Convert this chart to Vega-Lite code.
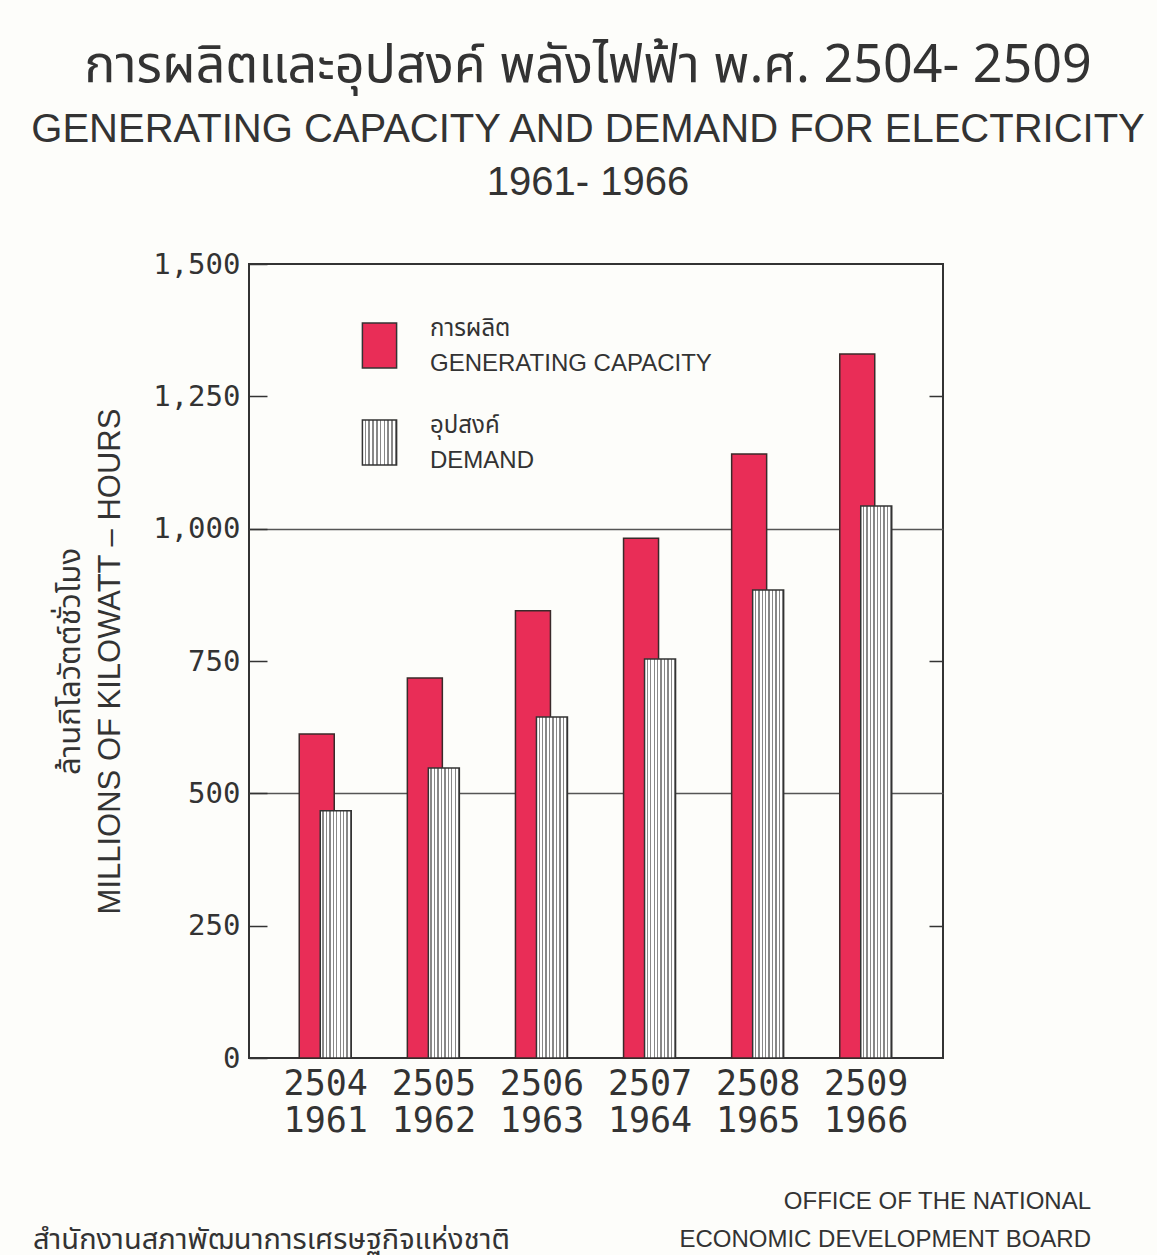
{
  "$schema": "https://vega.github.io/schema/vega-lite/v6.json",
  "background": "#fdfdfa",
  "padding": {"left": 29, "top": 40, "right": 10, "bottom": 0},
  "title": {
    "text": "การผลิตและอุปสงค์  พลังไฟฟ้า  พ.ศ.  2504- 2509",
    "subtitle": ["GENERATING CAPACITY AND DEMAND FOR ELECTRICITY", "1961- 1966"],
    "font": "Noto Sans Thai, Loma, Garuda, Noto Sans, sans-serif",
    "fontSize": 52,
    "fontWeight": "normal",
    "color": "#333333",
    "subtitleFont": "Liberation Sans",
    "subtitleFontSize": 40,
    "subtitleColor": "#333333",
    "subtitleLineHeight": 53,
    "subtitlePadding": 17,
    "offset": 45,
    "dx": 26,
    "anchor": "middle"
  },
  "datasets": {
    "elec": [
      {"year": "2504 1961", "series": "การผลิต|GENERATING CAPACITY", "value": 612},
      {"year": "2504 1961", "series": "อุปสงค์|DEMAND", "value": 467},
      {"year": "2505 1962", "series": "การผลิต|GENERATING CAPACITY", "value": 718},
      {"year": "2505 1962", "series": "อุปสงค์|DEMAND", "value": 548},
      {"year": "2506 1963", "series": "การผลิต|GENERATING CAPACITY", "value": 845},
      {"year": "2506 1963", "series": "อุปสงค์|DEMAND", "value": 644},
      {"year": "2507 1964", "series": "การผลิต|GENERATING CAPACITY", "value": 982},
      {"year": "2507 1964", "series": "อุปสงค์|DEMAND", "value": 754},
      {"year": "2508 1965", "series": "การผลิต|GENERATING CAPACITY", "value": 1141},
      {"year": "2508 1965", "series": "อุปสงค์|DEMAND", "value": 884},
      {"year": "2509 1966", "series": "การผลิต|GENERATING CAPACITY", "value": 1330},
      {"year": "2509 1966", "series": "อุปสงค์|DEMAND", "value": 1043}
    ],
    "footer": [
      {"col": "th", "row": "2", "text": "สำนักงานสภาพัฒนาการเศรษฐกิจแห่งชาติ"},
      {"col": "en", "row": "1", "text": "OFFICE OF THE NATIONAL"},
      {"col": "en", "row": "2", "text": "ECONOMIC DEVELOPMENT BOARD"}
    ]
  },
  "spacing": 51,
  "vconcat": [
    {
      "width": 694,
      "height": 794,
      "view": {"stroke": "#333333", "strokeWidth": 2},
      "data": {"name": "elec"},
      "encoding": {
        "x": {
          "field": "year",
          "type": "nominal",
          "sort": null,
          "scale": {"paddingInner": 0, "paddingOuter": 0.21},
          "axis": {
            "title": null,
            "domain": false,
            "ticks": false,
            "labelAngle": 0,
            "labelExpr": "split(datum.label, ' ')",
            "labelFont": "DejaVu Sans Mono",
            "labelFontSize": 35,
            "labelColor": "#333333",
            "labelLineHeight": 37,
            "labelPadding": 25,
            "labelBaseline": "top"
          }
        },
        "color": {
          "field": "series",
          "type": "nominal",
          "scale": {
            "domain": ["การผลิต|GENERATING CAPACITY", "อุปสงค์|DEMAND"],
            "range": [
              "#e92d57",
              {"expr": "{gradient: 'linear', x1: 0, y1: 0, x2: 1, y2: 0, stops: [{offset:0,color:'#fff'},{offset:0.0667,color:'#fff'},{offset:0.0667,color:'#888'},{offset:0.1111,color:'#888'},{offset:0.1111,color:'#fff'},{offset:0.1778,color:'#fff'},{offset:0.1778,color:'#888'},{offset:0.2222,color:'#888'},{offset:0.2222,color:'#fff'},{offset:0.2889,color:'#fff'},{offset:0.2889,color:'#888'},{offset:0.3333,color:'#888'},{offset:0.3333,color:'#fff'},{offset:0.4,color:'#fff'},{offset:0.4,color:'#888'},{offset:0.4444,color:'#888'},{offset:0.4444,color:'#fff'},{offset:0.5111,color:'#fff'},{offset:0.5111,color:'#888'},{offset:0.5556,color:'#888'},{offset:0.5556,color:'#fff'},{offset:0.6222,color:'#fff'},{offset:0.6222,color:'#888'},{offset:0.6667,color:'#888'},{offset:0.6667,color:'#fff'},{offset:0.7333,color:'#fff'},{offset:0.7333,color:'#888'},{offset:0.7778,color:'#888'},{offset:0.7778,color:'#fff'},{offset:0.8444,color:'#fff'},{offset:0.8444,color:'#888'},{offset:0.8889,color:'#888'},{offset:0.8889,color:'#fff'},{offset:0.9556,color:'#fff'},{offset:0.9556,color:'#888'},{offset:1,color:'#888'}]}"}
            ]
          },
          "legend": {
            "orient": "none",
            "legendX": 107,
            "legendY": 58,
            "title": null,
            "padding": 0,
            "symbolType": "M-0.76,-1H0.76V1H-0.76Z",
            "symbolSize": 2025,
            "symbolStrokeColor": "#333333",
            "symbolStrokeWidth": 1.5,
            "symbolOpacity": 1,
            "labelExpr": "split(datum.label, '|')",
            "labelFont": "Liberation Sans, Noto Sans Thai, sans-serif",
            "labelFontSize": 24,
            "labelColor": "#333333",
            "labelOffset": 27,
            "labelLimit": 400,
            "rowPadding": 37
          }
        }
      },
      "layer": [
        {
          "transform": [{"filter": "indexof(datum.series, 'GENERATING') >= 0"}],
          "mark": {"type": "bar", "width": 35, "xOffset": -9, "stroke": "#3a2a2a", "strokeWidth": 1.5, "opacity": 1},
          "encoding": {
            "y": {
              "field": "value",
              "type": "quantitative",
              "scale": {"domain": [0, 1500], "nice": false},
              "axis": {
                "orient": "left",
                "values": [0, 250, 500, 750, 1000, 1250, 1500],
                "format": ",d",
                "domain": false,
                "ticks": true,
                "tickSize": -18,
                "tickColor": "#333333",
                "tickWidth": 1.5,
                "grid": true,
                "gridColor": "#555555",
                "gridWidth": 1.5,
                "gridOpacity": {"condition": {"test": "datum.value === 500 || datum.value === 1000", "value": 1}, "value": 0},
                "labelFont": "DejaVu Sans Mono",
                "labelFontSize": 29,
                "labelColor": "#333333",
                "labelPadding": 27,
                "labelOffset": 17,
                "title": ["ล้านกิโลวัตต์ชั่วโมง", "MILLIONS  OF  KILOWATT – HOURS"],
                "titleFont": "Liberation Sans, Noto Sans Thai, sans-serif",
                "titleFontSize": 31,
                "titleFontWeight": "normal",
                "titleColor": "#333333",
                "titleLineHeight": 40,
                "titlePadding": 26
              }
            }
          }
        },
        {
          "transform": [{"filter": "indexof(datum.series, 'DEMAND') >= 0"}],
          "mark": {"type": "bar", "width": 31, "xOffset": 10, "stroke": "#333333", "strokeWidth": 1.5, "opacity": 1},
          "encoding": {
            "y": {
              "field": "value",
              "type": "quantitative",
              "scale": {"domain": [0, 1500], "nice": false},
              "axis": {
                "orient": "right",
                "values": [250, 750, 1250],
                "labels": false,
                "domain": false,
                "grid": false,
                "ticks": true,
                "tickSize": -14,
                "tickColor": "#333333",
                "tickWidth": 1.5,
                "title": null
              }
            }
          }
        }
      ]
    },
    {
      "width": 694,
      "height": 38,
      "view": {"stroke": null},
      "data": {"name": "footer"},
      "encoding": {
        "x": {"field": "col", "type": "nominal", "scale": {"type": "point", "domain": ["th", "en"], "range": [-216, 842], "padding": 0}, "axis": null},
        "y": {"field": "row", "type": "ordinal", "scale": {"type": "point", "domain": ["1", "2"], "range": [0, 38], "padding": 0}, "axis": null},
        "text": {"field": "text", "type": "nominal"}
      },
      "layer": [
        {
          "transform": [{"filter": "datum.col === 'th'"}],
          "mark": {"type": "text", "align": "left", "baseline": "middle", "font": "Noto Sans Thai, Loma, Garuda, sans-serif", "fontSize": 29, "color": "#333333"}
        },
        {
          "transform": [{"filter": "datum.col === 'en'"}],
          "mark": {"type": "text", "align": "right", "baseline": "middle", "font": "Liberation Sans", "fontSize": 24, "color": "#333333"}
        }
      ]
    }
  ],
  "config": {
    "font": "Liberation Sans",
    "style": {"guide-label": {"lineHeight": 35, "dy": -17}}
  }
}
